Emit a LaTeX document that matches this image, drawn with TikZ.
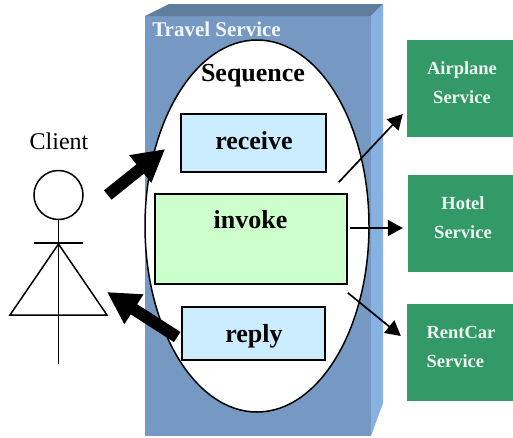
\documentclass[tikz,border=0pt]{standalone}
\usepackage{fontspec}
\setmainfont{Liberation Serif}
\usepackage{tikz}
\usetikzlibrary{shapes.geometric,arrows.meta}
\definecolor{frontblue}{HTML}{7599C3}
\definecolor{sideblue}{HTML}{85B2E1}
\definecolor{topblue}{HTML}{5F7E9E}
\definecolor{stepblue}{HTML}{CCECFF}
\definecolor{stepgreen}{HTML}{CCFFCC}
\definecolor{partner}{HTML}{339966}
\tikzstyle{stepbox} = [rectangle, draw, line width=1.6pt, inner sep=0pt]
\tikzstyle{partnerbox} = [rectangle, fill=partner, inner sep=0pt, minimum width=106pt, minimum height=97pt]
\tikzstyle{steptext} = [font=\fontsize{26}{26}\selectfont\bfseries, inner sep=0pt]
\tikzstyle{partnertext} = [font=\fontsize{18.5}{29}\selectfont\bfseries, text=white!92!partner, inner sep=0pt]
\tikzstyle{person} = [draw, line width=1.5pt]
\tikzstyle{bigline} = [draw, line width=12pt, -{Triangle[length=32pt,width=33pt]}]
\tikzstyle{line} = [draw, line width=1.7pt, -{Triangle[length=15pt,width=16pt]}]

\begin{document}
\begin{tikzpicture}[x=1pt,y=-1pt]
    \useasboundingbox (0,0) rectangle (513,437);
    % Service block
    \fill [frontblue] (145,16) rectangle (371,436);
    \fill [topblue] (145,16) -- (169,4) -- (383,4) -- (371,16) -- cycle;
    \fill [sideblue] (371,16) -- (383,4) -- (383,403) -- (371,436) -- cycle;
    \node [font=\fontsize{21}{21}\selectfont\bfseries, text=white!92!frontblue, inner sep=0pt] (travel) at (216.5,29.5) {Travel Service};
    \node [ellipse, draw, fill=white, line width=1.5pt, inner sep=0pt, minimum width=224pt, minimum height=372pt] (sequence) at (257,226) {};
    \node [steptext] (sequencetext) at (253,76) {Sequence};
    % Steps
    \node [stepbox, fill=stepblue, minimum width=145pt, minimum height=58pt] (receive) at (253.5,143) {};
    \node [steptext] (receivetext) at (254,141) {receive};
    \node [stepbox, fill=stepgreen, minimum width=192pt, minimum height=90pt] (invoke) at (251,239) {};
    \node [steptext] (invoketext) at (250.5,220) {invoke};
    \node [stepbox, fill=stepblue, minimum width=143pt, minimum height=53pt] (reply) at (253.5,333.5) {};
    \node [steptext] (replytext) at (254,336) {reply};
    % Partners
    \node [partnerbox] (airplane) at (460,88.5) {};
    \node [partnertext, align=center] (airplanetext) at (462,82.5) {Airplane\\Service};
    \node [partnerbox] (hotel) at (461,223.5) {};
    \node [partnertext, align=center] (hoteltext) at (463,217.5) {Hotel\\Service};
    \node [partnerbox] (rentcar) at (460,352.5) {};
    \node [partnertext, align=left] (rentcartext) at (461,346.5) {RentCar\\Service};
    % Client
    \node [font=\fontsize{24}{24}\selectfont, inner sep=0pt] (client) at (59,141) {Client};
    \node [circle, person, fill=white, inner sep=0pt, minimum size=49pt] (head) at (58.5,195) {};
    \coordinate (armleft) at (34,243);
    \coordinate (armright) at (83,243);
    \coordinate (neck) at (58.5,244);
    \coordinate (footleft) at (10,315);
    \coordinate (footright) at (107,315);
    \coordinate (foot) at (58.5,364);
    \draw [person] (head.south) -- (foot);
    \draw [person] (armleft) -- (armright);
    \draw [person] (neck) -- (footleft) -- (footright) -- cycle;
    % Draw edges
    \path [bigline] ([xshift=24]head.east) -- ([shift={(-15,6)}]receive.west);
    \path [bigline] ([shift={(-4,3.5)}]reply.west) -- ([yshift=23]footright);
    \path [line] ([shift={(-9,-11)}]invoke.north east) -- ([shift={(-4,25.5)}]airplane.west);
    \path [line] ([shift={(2,-11)}]invoke.east) -- ([shift={(-5,4.5)}]hotel.west);
    \path [line] ([shift={(0,8)}]invoke.south east) -- ([shift={(-6,-16.5)}]rentcar.west);
\end{tikzpicture}
\end{document}
